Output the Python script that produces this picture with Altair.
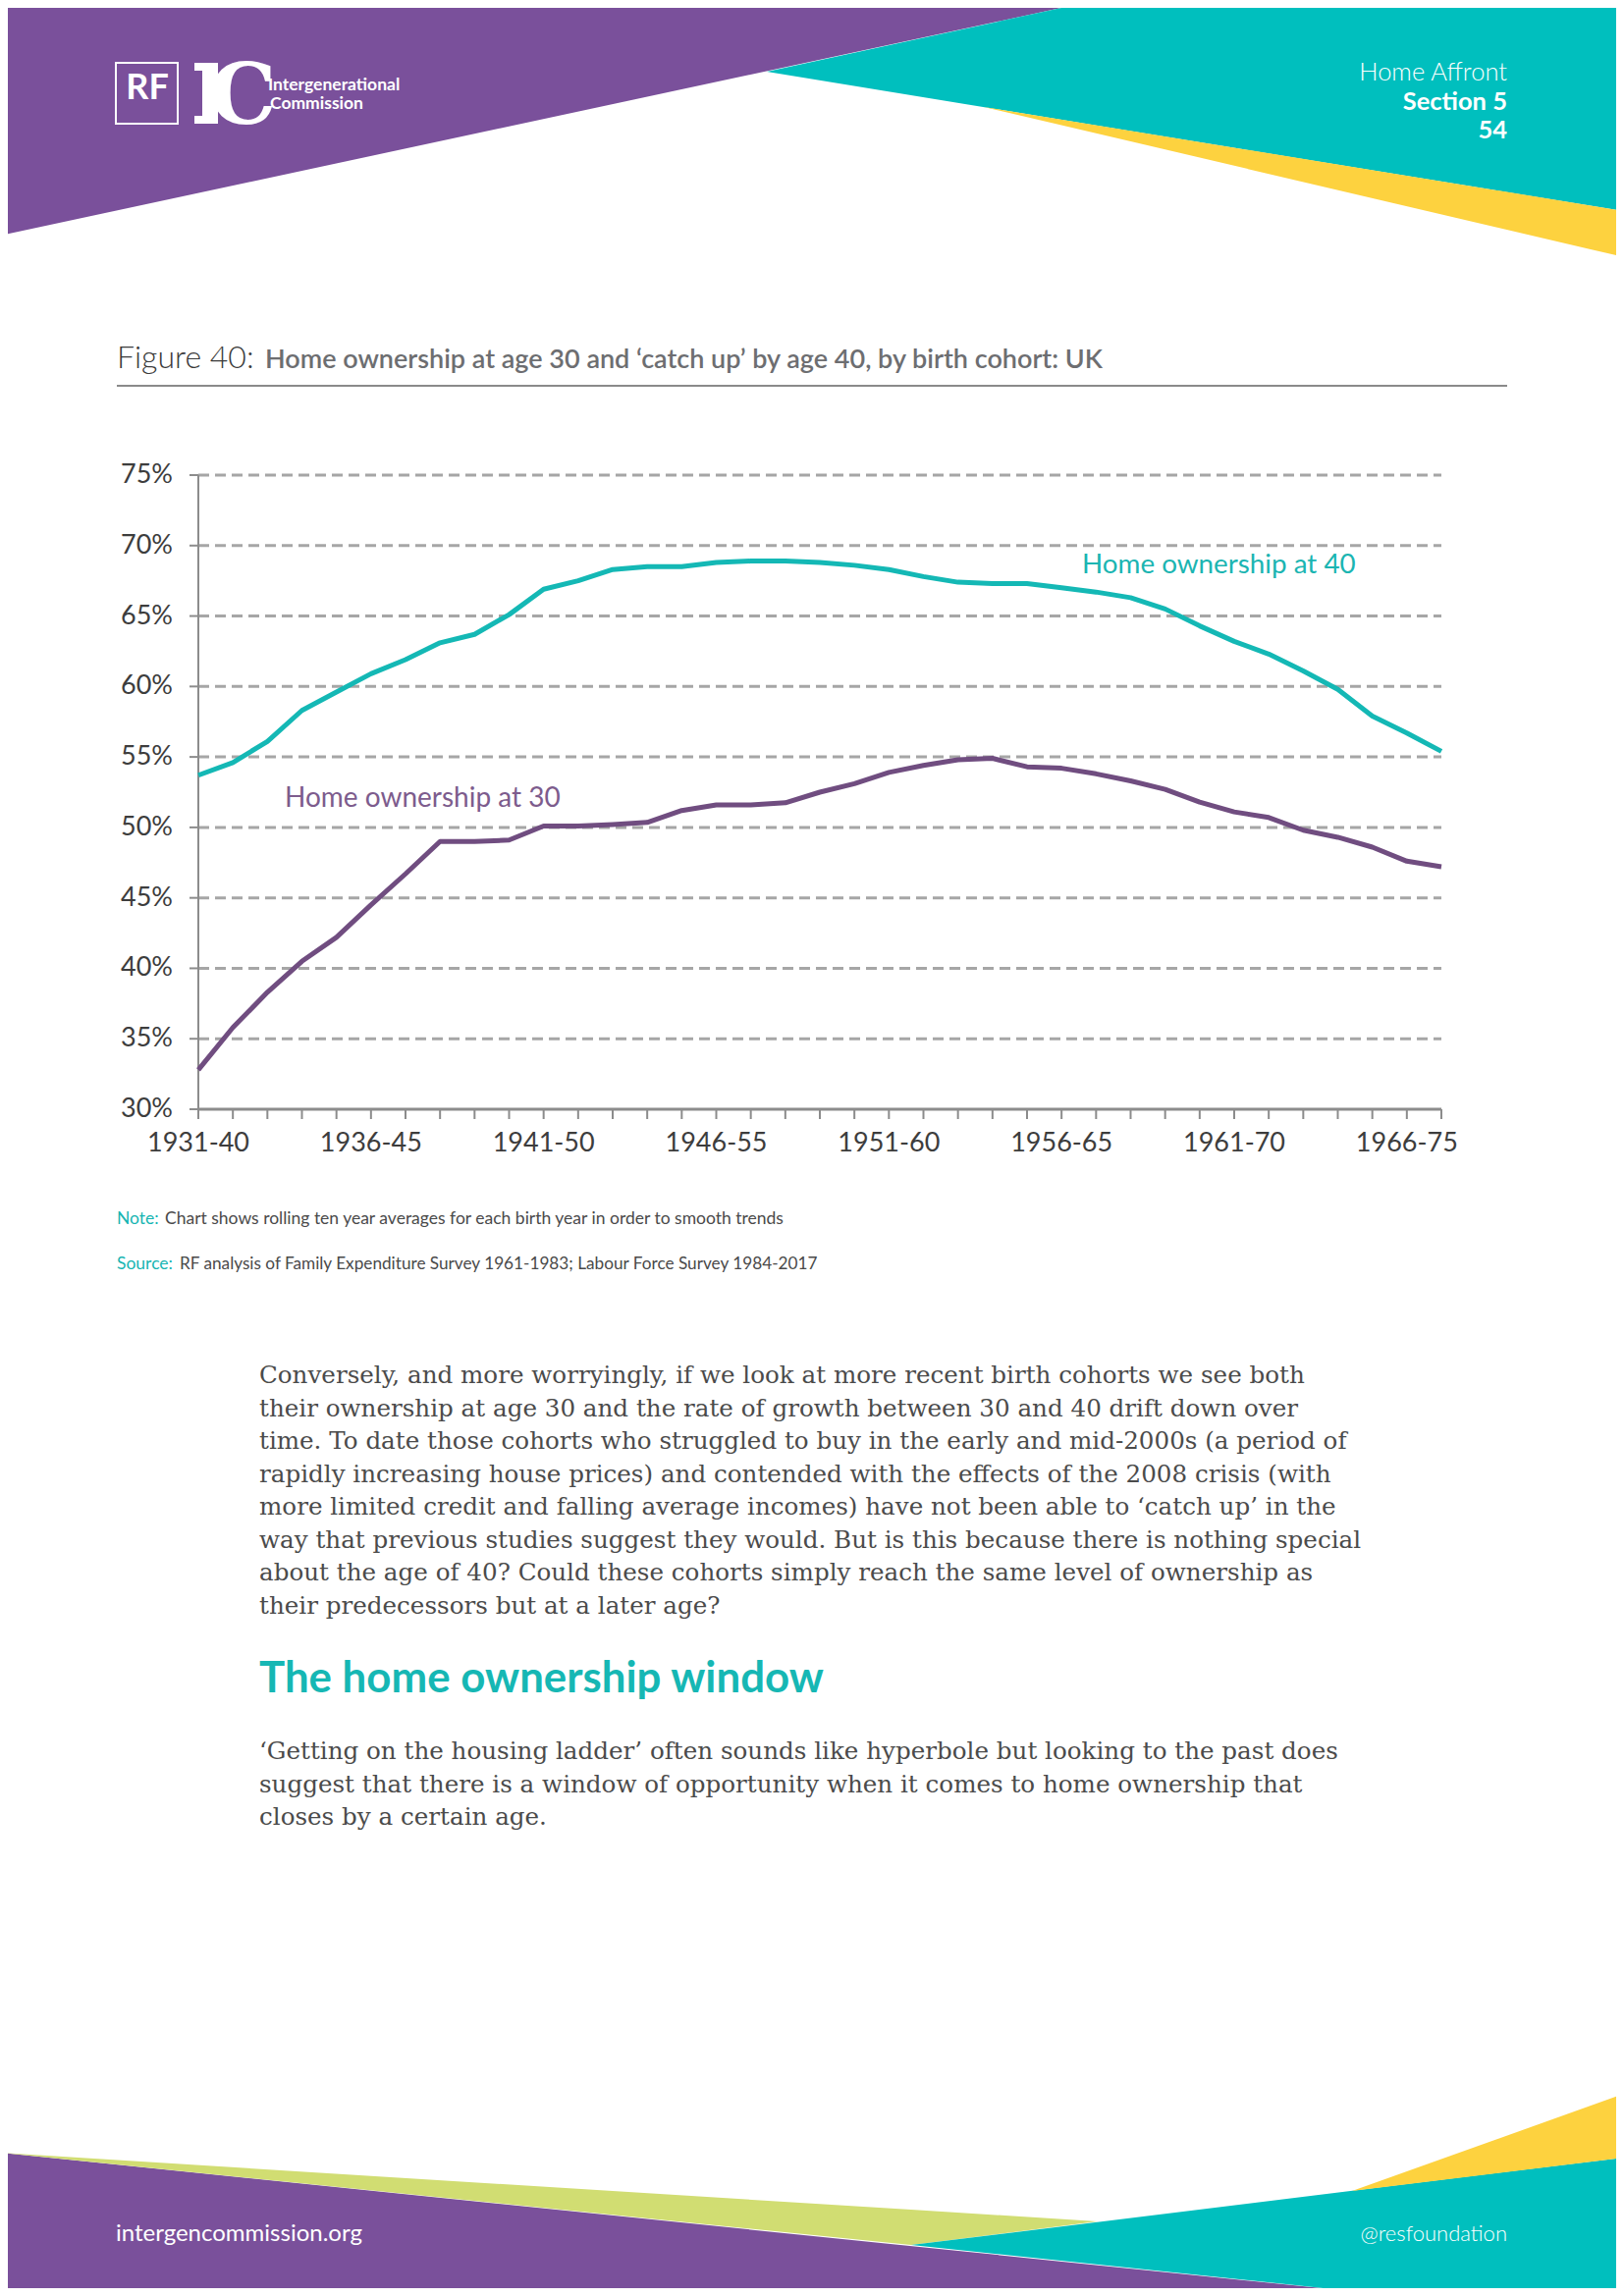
import altair as alt
import pandas as pd

# ---------------- data ----------------
cohorts = [
    "1931-40", "1932-41", "1933-42", "1934-43", "1935-44", "1936-45", "1937-46",
    "1938-47", "1939-48", "1940-49", "1941-50", "1942-51", "1943-52", "1944-53",
    "1945-54", "1946-55", "1947-56", "1948-57", "1949-58", "1950-59", "1951-60",
    "1952-61", "1953-62", "1954-63", "1955-64", "1956-65", "1957-66", "1958-67",
    "1959-68", "1960-69", "1961-70", "1962-71", "1963-72", "1964-73", "1965-74",
    "1966-75", "1967-76",
]
home_own_30 = [
    32.8, 35.8, 38.3, 40.5, 42.2, 44.5, 46.7, 49.0, 49.0, 49.1,
    50.1, 50.1, 50.2, 50.35, 51.2, 51.6, 51.6, 51.75, 52.5,
    53.1, 53.9, 54.4, 54.8, 54.9, 54.3, 54.2, 53.8, 53.3,
    52.7, 51.8, 51.1, 50.7, 49.8, 49.3, 48.6, 47.6, 47.2,
]
home_own_40 = [
    53.7, 54.6, 56.1, 58.3, 59.6, 60.9, 61.9, 63.1, 63.7, 65.1,
    66.9, 67.5, 68.3, 68.5, 68.5, 68.8, 68.9, 68.9, 68.8,
    68.6, 68.3, 67.8, 67.4, 67.3, 67.3, 67.0, 66.7, 66.3,
    65.5, 64.3, 63.2, 62.3, 61.1, 59.8, 57.9, 56.7, 55.4,
]
series_names = ["Home ownership at 30", "Home ownership at 40"]
x_tick_labels = ["1931-40", "1936-45", "1941-50", "1946-55",
                 "1951-60", "1956-65", "1961-70", "1966-75"]
y_ticks = [30, 35, 40, 45, 50, 55, 60, 65, 70, 75]
y_tick_labels = ["30%", "35%", "40%", "45%", "50%", "55%", "60%", "65%", "70%", "75%"]

para1 = [
    "Conversely, and more worryingly, if we look at more recent birth cohorts we see both",
    "their ownership at age 30 and the rate of growth between 30 and 40 drift down over",
    "time. To date those cohorts who struggled to buy in the early and mid-2000s (a period of",
    "rapidly increasing house prices) and contended with the effects of the 2008 crisis (with",
    "more limited credit and falling average incomes) have not been able to \u2018catch up\u2019 in the",
    "way that previous studies suggest they would. But is this because there is nothing special",
    "about the age of 40? Could these cohorts simply reach the same level of ownership as",
    "their predecessors but at a later age?",
]
para2 = [
    "\u2018Getting on the housing ladder\u2019 often sounds like hyperbole but looking to the past does",
    "suggest that there is a window of opportunity when it comes to home ownership that",
    "closes by a certain age.",
]

# ---------------- style ----------------
PURPLE = "#7a509b"
TEAL = "#00bfbe"
YELLOW = "#fdd23f"
GREEN = "#d1dd72"
LINE_TEAL = "#14b8b5"
LINE_PURPLE = "#704d80"
SANS = "Lato"
SERIF = "DejaVu Serif"

M = 8  # page margin of the html page
W, H = 1654 - 2 * M, 2339 - 2 * M


def px(v):
    return v - M


X_SCALE = alt.Scale(type="point", domain=cohorts, range=[px(202), px(1468)], padding=0)
Y_SCALE = alt.Scale(domain=[30, 75], range=[px(1130), px(484)], zero=False, nice=False)

one = pd.DataFrame({"k": [0]})


def text(x, y, s, size, color, weight="normal", font=SANS, align="left",
         baseline="alphabetic", line_height=None):
    kw = dict(font=font, fontSize=size, color=color, fontWeight=weight,
              align=align, baseline=baseline)
    if line_height is not None:
        kw["lineBreak"] = "\n"
        kw["lineHeight"] = line_height
    return alt.Chart(pd.DataFrame({"t": [s]})).mark_text(**kw).encode(
        x=alt.value(px(x)), y=alt.value(px(y)), text="t:N")


# ---------------- page decoration ----------------
deco = pd.DataFrame([
    # shape, colour, x, y, y2   (page pixels)
    ("h_purple", PURPLE, 0, 240, 0), ("h_purple", PURPLE, 1118, 0, 0),
    ("h_teal", TEAL, 781, 73, 73), ("h_teal", TEAL, 1118, 0, 128), ("h_teal", TEAL, 1654, 0, 215),
    ("h_yellow", YELLOW, 1002, 109, 109), ("h_yellow", YELLOW, 1654, 215, 262),
    ("f_purple", PURPLE, 0, 2193, 2339), ("f_purple", PURPLE, 1424, 2339, 2339),
    ("f_green", GREEN, 0, 2193, 2193), ("f_green", GREEN, 928, 2251, 2287), ("f_green", GREEN, 1118, 2263, 2263),
    ("f_teal", TEAL, 928, 2287, 2287), ("f_teal", TEAL, 1424, 2226, 2339), ("f_teal", TEAL, 1654, 2198, 2339),
    ("f_yellow", YELLOW, 1377, 2232, 2232), ("f_yellow", YELLOW, 1654, 2133, 2198),
], columns=["shape", "col", "x", "y", "y2"])

PX = alt.Scale(domain=[0, 1654], range=[-M, 1654 - M], zero=False, nice=False)
PY = alt.Scale(domain=[0, 2339], range=[-M, 2339 - M], zero=False, nice=False)

bg = alt.Chart(deco).mark_area(opacity=1).encode(
    x=alt.X("x:Q", scale=PX, axis=None),
    y=alt.Y("y:Q", scale=PY, axis=None),
    y2="y2:Q",
    color=alt.Color("col:N", scale=None),
    detail="shape:N",
)

rf_box = alt.Chart(one).mark_rect(fillOpacity=0, stroke="white", strokeWidth=2).encode(
    x=alt.value(px(118)), x2=alt.value(px(181)), y=alt.value(px(64)), y2=alt.value(px(126)))
i_top = alt.Chart(one).mark_rect(color="white").encode(
    x=alt.value(px(198)), x2=alt.value(px(222)), y=alt.value(px(64)), y2=alt.value(px(72)))
i_bot = alt.Chart(one).mark_rect(color="white").encode(
    x=alt.value(px(198)), x2=alt.value(px(222)), y=alt.value(px(118)), y2=alt.value(px(126)))
i_stem = alt.Chart(one).mark_rect(color="white").encode(
    x=alt.value(px(206)), x2=alt.value(px(222)), y=alt.value(px(64)), y2=alt.value(px(126)))

logo = [
    rf_box, i_top, i_bot, i_stem,
    text(150, 101, "RF", 36, "white", "bold", align="center"),
    text(213, 126, "C", 86, "white", "bold", font="DejaVu Serif"),
    text(273, 92, "Intergenerational", 17.5, "white", "bold"),
    text(275, 111, "Commission", 17.5, "white", "bold"),
]

header_txt = [
    text(1535, 82, "Home Affront", 25.5, "white", 300, align="right"),
    text(1535, 112, "Section 5", 25.5, "white", "bold", align="right"),
    text(1535, 141, "54", 25.5, "white", "bold", align="right"),
]

title = [
    text(119, 375, "Figure 40:", 32, "#3a3a3a", 300),
    text(270, 375, "Home ownership at age 30 and \u2018catch up\u2019 by age 40, by birth cohort: UK",
         27, "#6d6e71", 600),
]
title_rule = alt.Chart(one).mark_rule(color="#8a8a8a", strokeWidth=2).encode(
    x=alt.value(px(119)), x2=alt.value(px(1535)), y=alt.value(px(393)))

# ---------------- chart ----------------
grid_df = pd.DataFrame({"v": y_ticks[1:]})
grid = alt.Chart(grid_df).mark_rule(strokeDash=[11, 6], strokeWidth=3, color="#a6a6a6").encode(
    y=alt.Y("v:Q", scale=Y_SCALE, axis=None),
    x=alt.value(px(202)), x2=alt.value(px(1468)))

ytick_df = pd.DataFrame({"v": y_ticks, "lab": y_tick_labels})
yticks = alt.Chart(ytick_df).mark_rule(strokeWidth=2, color="#8c8c8c").encode(
    y=alt.Y("v:Q", scale=Y_SCALE, axis=None),
    x=alt.value(px(193)), x2=alt.value(px(202)))
ylabels = alt.Chart(ytick_df).mark_text(font=SANS, fontSize=27, color="#3d3d3d",
                                        align="right", baseline="middle").encode(
    y=alt.Y("v:Q", scale=Y_SCALE, axis=None),
    x=alt.value(px(176)), text="lab:N")

y_axis = alt.Chart(one).mark_rule(strokeWidth=2, color="#8c8c8c").encode(
    x=alt.value(px(202)), y=alt.value(px(484)), y2=alt.value(px(1130)))
x_axis = alt.Chart(one).mark_rule(strokeWidth=3, color="#8c8c8c").encode(
    x=alt.value(px(202)), x2=alt.value(px(1468)), y=alt.value(px(1130)))

xt_df = pd.DataFrame({"c": cohorts})
xticks = alt.Chart(xt_df).mark_rule(strokeWidth=2, color="#8c8c8c").encode(
    x=alt.X("c:O", scale=X_SCALE, axis=None),
    y=alt.value(px(1130)), y2=alt.value(px(1140)))
xl_df = pd.DataFrame({"c": x_tick_labels})
xlabels = alt.Chart(xl_df).mark_text(font=SANS, fontSize=27, color="#3d3d3d",
                                     align="center", baseline="alphabetic").encode(
    x=alt.X("c:O", scale=X_SCALE, axis=None),
    y=alt.value(px(1173)), text="c:N")

line_df = pd.DataFrame({
    "cohort": cohorts * 2,
    "value": home_own_30 + home_own_40,
    "series": [series_names[0]] * len(cohorts) + [series_names[1]] * len(cohorts),
})
lines = alt.Chart(line_df).mark_line(strokeWidth=5, strokeJoin="round").encode(
    x=alt.X("cohort:O", scale=X_SCALE, axis=None),
    y=alt.Y("value:Q", scale=Y_SCALE, axis=None),
    color=alt.Color("series:N", scale=alt.Scale(domain=series_names,
                                                range=[LINE_PURPLE, LINE_TEAL]), legend=None),
)

line_labels = [
    text(1102, 584, series_names[1], 27.8, "#1bb5b2"),
    text(290, 822, series_names[0], 28, "#7d5c8d"),
]

notes = [
    text(119, 1247, "Note:", 17.5, "#17b5b2"),
    text(168, 1247, "Chart shows rolling ten year averages for each birth year in order to smooth trends",
         17.5, "#4a4a4a"),
    text(119, 1293, "Source:", 17.5, "#17b5b2"),
    text(183, 1293, "RF analysis of Family Expenditure Survey 1961-1983; Labour Force Survey 1984-2017",
         17.2, "#4a4a4a"),
]

body = [
    text(264, 1409, "\n".join(para1), 24.6, "#4b4b4b", font=SERIF, line_height=33.5),
    text(264, 1724, "The home ownership window", 43.8, "#16b7b4", "bold"),
    text(264, 1792, "\n".join(para2), 24.6, "#4b4b4b", font=SERIF, line_height=33.5),
]

footer_txt = [
    text(118, 2283, "intergencommission.org", 24, "white"),
    text(1535, 2283, "@resfoundation", 22, "white", 300, align="right"),
]

layers = ([bg] + logo + header_txt + title + [title_rule, grid, yticks, ylabels, y_axis, x_axis,
          xticks, xlabels, lines] + line_labels + notes + body + footer_txt)

chart = alt.layer(*layers).resolve_scale(
    x="independent", y="independent", color="independent"
).properties(
    width=W, height=H, padding=0, autosize="none", background="white"
).configure_view(stroke=None)

chart.save("out.html", embed_options={"renderer": "svg", "actions": False})
